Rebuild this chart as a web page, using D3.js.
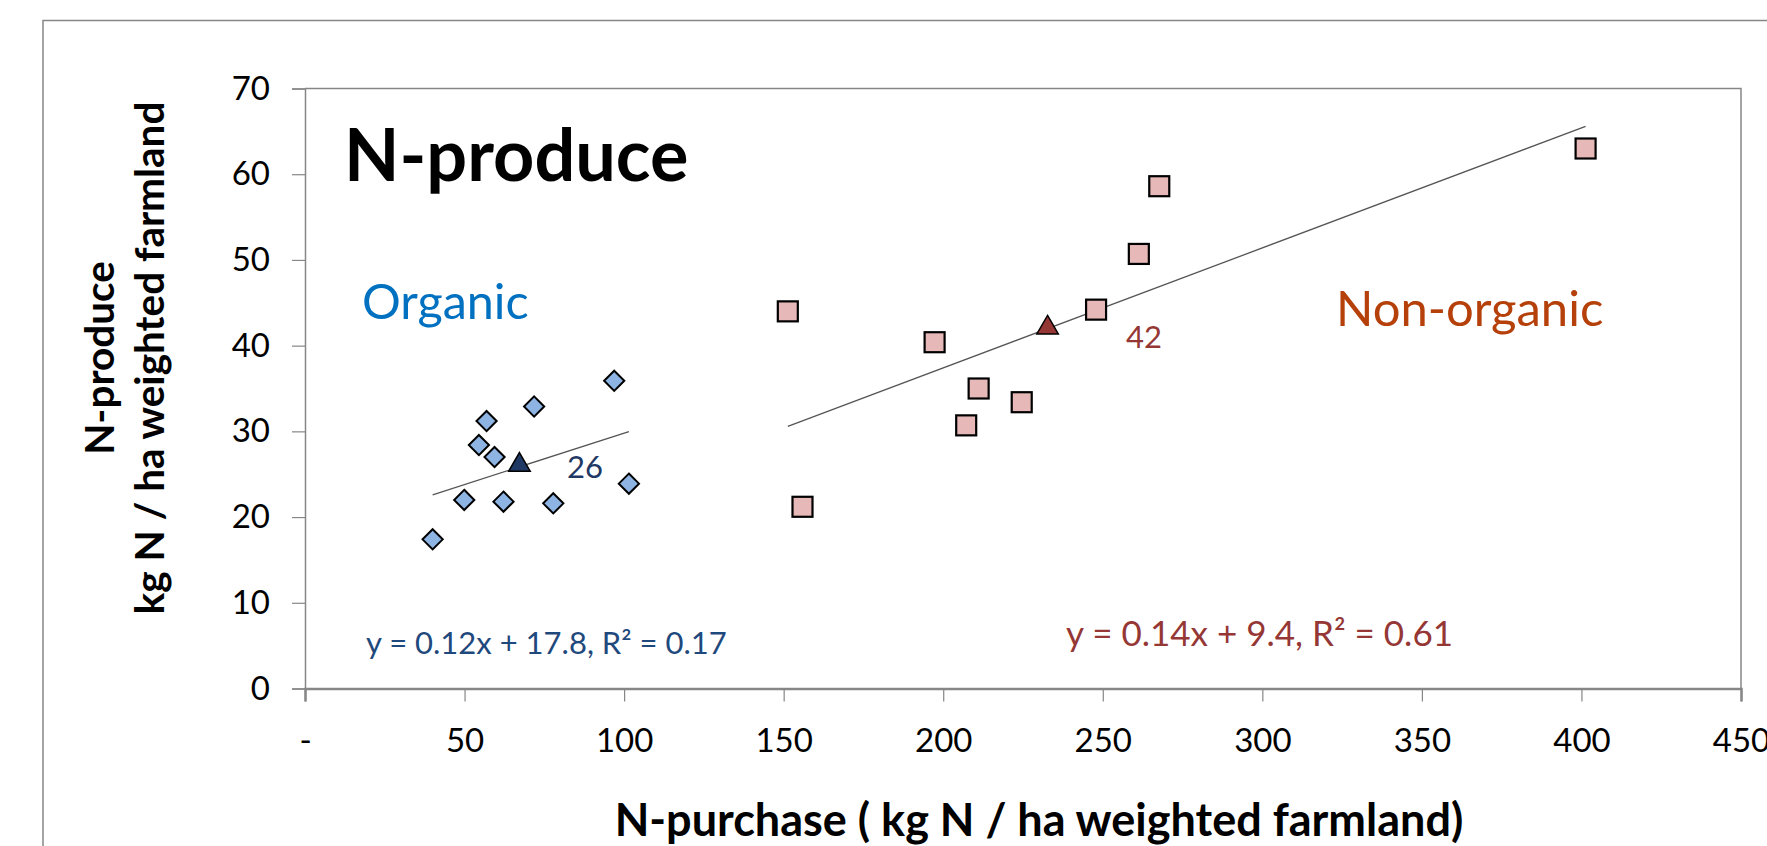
<!DOCTYPE html>
<html>
<head>
<meta charset="utf-8">
<script src="https://cdn.jsdelivr.net/npm/d3@7"></script>
<style>
    body { margin: 0; background: #fff; }
    text { font-family: Lato, "Open Sans", sans-serif; }
</style>
</head>
<body>
<svg id="chart" width="1767" height="846"></svg>
<script>
// organic farms
const organicX = [40.0, 49.9, 54.5, 56.9, 59.4, 62.2, 71.8, 77.8, 96.9, 101.5];
const organicY = [17.4, 22.0, 28.4, 31.2, 27.0, 21.8, 32.9, 21.6, 35.9, 23.9];
// non-organic farms
const nonOrganicX = [151.3, 155.9, 197.3, 207.2, 211.1, 224.6, 247.9, 261.3, 267.7, 401.3];
const nonOrganicY = [44.0, 21.2, 40.4, 30.7, 35.0, 33.4, 44.2, 50.7, 58.6, 63.0];
// group means
const meanX = [67.2, 232.7];
const meanY = [26.2, 42.2];
const meanLabels = ["26", "42"];
// trend lines (slope, intercept)
const trendSlope = [0.12, 0.14];
const trendIntercept = [17.8, 9.4];
const trendText = ["y = 0.12x + 17.8, R² = 0.17", "y = 0.14x + 9.4, R² = 0.61"];

const xTicks = [0, 50, 100, 150, 200, 250, 300, 350, 400, 450];
const yTicks = [0, 10, 20, 30, 40, 50, 60, 70];

const plot = {left: 305, right: 1741, top: 88.5, bottom: 688.5};
const axisColor = "#868686";

const svg = d3.select("#chart");

// outer chart frame, runs off the right and bottom edges
svg.append("rect").attr("x", 43).attr("y", 20.5).attr("width", 1800).attr("height", 900)
    .attr("fill", "none").attr("stroke", axisColor).attr("stroke-width", 1.5);

const x = d3.scaleLinear().domain([0, 450]).range([plot.left, plot.right]);
const y = d3.scaleLinear().domain([0, 70]).range([plot.bottom, plot.top]);

// plot area border (top and right)
svg.append("path")
    .attr("d", `M ${plot.left},${plot.top} H ${plot.right} V ${plot.bottom}`)
    .attr("fill", "none").attr("stroke", axisColor).attr("stroke-width", 1.5);

const yAxis = svg.append("g").attr("transform", `translate(${plot.left},0)`)
    .call(d3.axisLeft(y).tickValues(yTicks).tickSize(13).tickPadding(22));
const xAxis = svg.append("g").attr("transform", `translate(0,${plot.bottom})`)
    .call(d3.axisBottom(x).tickValues(xTicks).tickSize(13).tickPadding(27)
        .tickFormat(d => d === 0 ? "-" : d));

[xAxis, yAxis].forEach(a => {
    a.select(".domain").attr("stroke", axisColor).attr("stroke-width", 1.5);
    a.selectAll(".tick line").attr("stroke", axisColor).attr("stroke-width", 1.2);
    a.selectAll(".tick text").attr("fill", "#000").style("font-size", "33px");
});
xAxis.select(".domain").attr("stroke-width", 2.5);

// axis titles
svg.append("text").attr("x", 1039).attr("y", 836).attr("text-anchor", "middle")
    .style("font-size", "45px").style("font-weight", "bold")
    .text("N-purchase ( kg N / ha weighted farmland)");

const yTitle = svg.append("text").attr("transform", "translate(0,358) rotate(-90)")
    .attr("text-anchor", "middle").style("font-size", "40.5px").style("font-weight", "bold");
yTitle.append("tspan").attr("x", 0).attr("y", 114).text("N-produce");
yTitle.append("tspan").attr("x", 0).attr("y", 164).text("kg N / ha weighted farmland");

// trend lines
const groupsX = [organicX, nonOrganicX];
trendSlope.forEach((m, i) => {
    const x0 = d3.min(groupsX[i]), x1 = d3.max(groupsX[i]);
    svg.append("line")
        .attr("x1", x(x0)).attr("y1", y(m * x0 + trendIntercept[i]))
        .attr("x2", x(x1)).attr("y2", y(m * x1 + trendIntercept[i]))
        .attr("stroke", "#555").attr("stroke-width", 1.3);
});

// organic diamonds
svg.append("g").selectAll("path").data(d3.zip(organicX, organicY)).join("path")
    .attr("d", d3.symbol(d3.symbolDiamond2, 260))
    .attr("transform", d => `translate(${x(d[0])},${y(d[1])})`)
    .attr("fill", "#8DB4E2").attr("stroke", "#000").attr("stroke-width", 2);

// non-organic squares
svg.append("g").selectAll("rect").data(d3.zip(nonOrganicX, nonOrganicY)).join("rect")
    .attr("x", d => x(d[0]) - 10).attr("y", d => y(d[1]) - 10)
    .attr("width", 20).attr("height", 20)
    .attr("fill", "#E6B9B8").attr("stroke", "#000").attr("stroke-width", 2.2);

// means
const meanFill = ["#1F3864", "#953735"];
svg.append("g").selectAll("path").data(d3.zip(meanX, meanY)).join("path")
    .attr("d", d3.symbol(d3.symbolTriangle, 200))
    .attr("transform", d => `translate(${x(d[0])},${y(d[1]) + 1})`)
    .attr("fill", (d, i) => meanFill[i]).attr("stroke", "#000").attr("stroke-width", 1.5);

const meanLabelPos = [[567, 478], [1126, 348]];
meanLabels.forEach((t, i) => {
    svg.append("text").attr("x", meanLabelPos[i][0]).attr("y", meanLabelPos[i][1])
        .attr("fill", i === 0 ? "#1F3864" : "#953735").style("font-size", "31px").text(t);
});

// annotations
svg.append("text").attr("x", 344).attr("y", 181).style("font-size", "72px").style("font-weight", "bold")
    .attr("fill", "#000").text("N-produce");
svg.append("text").attr("x", 362).attr("y", 319).style("font-size", "48.5px")
    .attr("fill", "#0070C0").text("Organic");
svg.append("text").attr("x", 1336).attr("y", 326).style("font-size", "49px")
    .attr("fill", "#B5400A").text("Non-organic");

svg.append("text").attr("x", 366).attr("y", 654).style("font-size", "31px")
    .attr("fill", "#1F497D").text(trendText[0]);
svg.append("text").attr("x", 1066).attr("y", 646).style("font-size", "35px")
    .attr("fill", "#953735").text(trendText[1]);
</script>
</body>
</html>
